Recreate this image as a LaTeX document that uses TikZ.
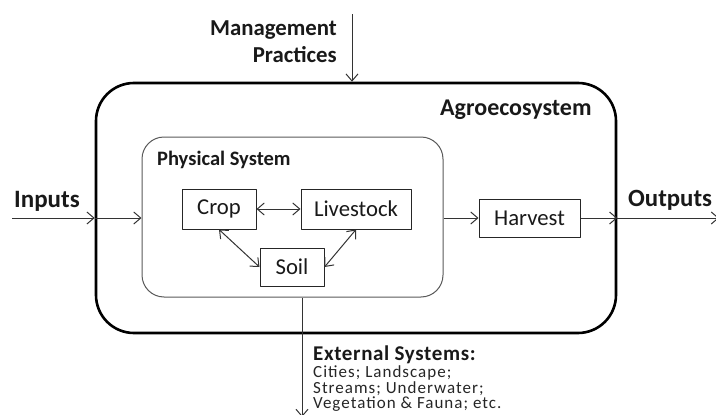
\documentclass[tikz,border=0pt]{standalone}
\usepackage{fontspec}
\setmainfont{Carlito}
\newfontfamily\spacedfont[LetterSpace=6]{Carlito}
\newfontfamily\headfont[LetterSpace=3]{Carlito}
\usetikzlibrary{arrows.meta}
\newcommand{\fs}[1]{\fontsize{#1}{#1}\selectfont}
\begin{document}
\begin{tikzpicture}[x=1pt,y=-1pt,
  line join=round,
  arr/.style={draw=black!80, line width=1pt, -{Straight Barb[length=7pt,width=12pt]}},
  darr/.style={draw=black!80, line width=1pt, {Straight Barb[length=7pt,width=12pt]}-{Straight Barb[length=7pt,width=12pt]}},
  part/.style={draw=black!85, line width=1pt, fill=white, inner sep=0pt,
    text=black!90, font=\fs{22.7}},
  lbl/.style={inner sep=0pt, text=black!90},
  note/.style={inner sep=0pt, anchor=base west, align=left, text=black!85,
    font=\spacedfont\fontsize{17}{15.6}\selectfont}
]
\useasboundingbox (0,0) rectangle (716,415);

% containers
\node (agro) [draw=black, line width=2.6pt, rounded corners=38pt,
  minimum width=520pt, minimum height=250pt] at (356,208) {};
\node (phys) [draw=black!65, line width=1pt, rounded corners=22pt,
  minimum width=301pt, minimum height=160pt] at (292.5,217) {};

% components
\node (crop) [part, minimum width=74pt, minimum height=40pt] at (219,209) {Crop};
\node (live) [part, minimum width=110pt, minimum height=40pt] at (356,209) {Livestock};
\node (soil) [part, minimum width=64pt, minimum height=38pt] at (292,267) {Soil};
\node (harv) [part, minimum width=101pt, minimum height=38pt] at (529.5,218) {Harvest};

% labels
\node (mg1) [lbl, anchor=base east, font=\bfseries\fs{22.8}] at (337,35) {Management};
\node (mg2) [lbl, anchor=base east, font=\bfseries\fs{22.8}] at (337,63) {Practices};
\node (agrol) [lbl, anchor=base west, font=\bfseries\fs{24}] at (440,115) {Agroecosystem};
\node (physl) [lbl, anchor=base west, font=\bfseries\fs{20.5}] at (157,165) {Physical System};
\node (inl) [lbl, anchor=base west, font=\bfseries\fs{25}] at (14,207) {Inputs};
\node (outl) [lbl, anchor=base west, font=\bfseries\fs{24.8}] at (628,206) {Outputs};
\node (ext0) [lbl, anchor=base west, font=\headfont\bfseries\fs{21}] at (313,360) {External Systems:};
% three-line list; its base anchor sits on the last line
\node (ext) [note] at (313,408.7) {Cities; Landscape;\\Streams; Underwater;\\Vegetation \& Fauna; etc.};

% free ends of the flows
\coordinate (inL) at (12,218);
\coordinate (outR) at (719,218);
\coordinate (mgT) at (352,14);
\coordinate (extB) at (302,417);

% flows
\draw[arr] (inL) -- (inL -| agro.west);
\draw[arr] (inL -| agro.west) -- (inL -| phys.west);
\draw[arr] (mgT) -- (mgT |- agro.north);
\draw[arr] (harv.west -| phys.east) -- (harv.west);
\draw[arr] (harv.east) -- (harv.east -| agro.east);
\draw[arr] (harv.east -| agro.east) -- (outR);
\draw[arr] (extB |- phys.south) -- (extB);

% interactions
\draw[darr] (crop.east) -- (live.west);
\draw[darr] (crop.south) -- (soil.west);
\draw[darr] (live.south) -- (soil.east);
\end{tikzpicture}
\end{document}
